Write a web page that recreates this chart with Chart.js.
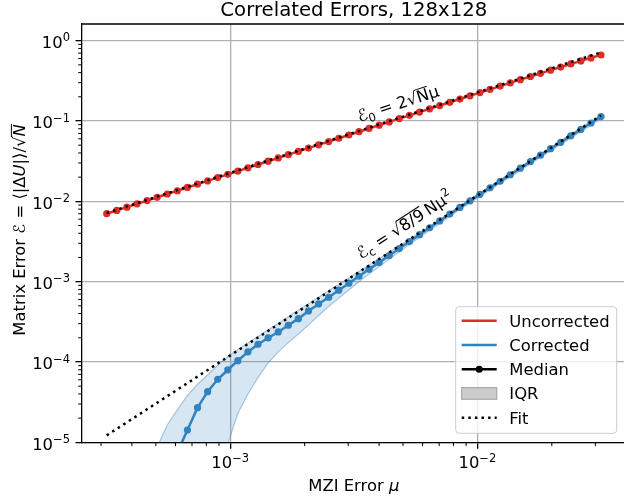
<!DOCTYPE html>
<html>
<head>
<meta charset="utf-8">
<script src="https://cdn.jsdelivr.net/npm/chart.js@4.4.1/dist/chart.umd.min.js"></script>
<style>
  html, body { margin: 0; padding: 0; background: #fff; overflow: hidden; }
  canvas { display: block; }
</style>
</head>
<body>
<canvas id="chart" width="640" height="501"></canvas>
<script>
// MZI error values (log-spaced sweep)
const mu = [
  3.162e-4, 3.474e-4, 3.816e-4, 4.193e-4, 4.606e-4, 5.060e-4, 5.559e-4, 6.107e-4, 6.709e-4, 7.371e-4,
  8.097e-4, 8.896e-4, 9.772e-4, 1.0730e-3, 1.1788e-3, 1.2950e-3, 1.4227e-3, 1.5630e-3, 1.7171e-3, 1.8864e-3,
  2.0724e-3, 2.2767e-3, 2.5012e-3, 2.7479e-3, 3.0188e-3, 3.3165e-3, 3.6436e-3, 4.0029e-3, 4.3976e-3, 4.8312e-3,
  5.3076e-3, 5.8310e-3, 6.4059e-3, 7.0376e-3, 7.7316e-3, 8.4941e-3, 9.3317e-3, 1.0238e-2, 1.1247e-2, 1.2356e-2,
  1.3575e-2, 1.4913e-2, 1.6384e-2, 1.7999e-2, 1.9775e-2, 2.1724e-2, 2.3867e-2, 2.6220e-2, 2.8805e-2, 3.1623e-2
];

// median matrix error without correction
const uncorrectedMedian = [
  7.013e-3, 7.705e-3, 8.464e-3, 9.300e-3, 1.0216e-2, 1.1223e-2, 1.2330e-2, 1.3545e-2, 1.4881e-2, 1.6349e-2,
  1.7959e-2, 1.9731e-2, 2.1674e-2, 2.3799e-2, 2.6146e-2, 2.8723e-2, 3.1555e-2, 3.4667e-2, 3.8079e-2, 4.183e-2,
  4.5955e-2, 5.0483e-2, 5.5458e-2, 6.0923e-2, 6.6923e-2, 7.3515e-2, 8.0756e-2, 8.8706e-2, 9.7435e-2, 0.10702,
  0.11754, 0.12909, 0.14176, 0.15567, 0.17092, 0.18765, 0.20599, 0.22577, 0.24772, 0.27175,
  0.29804, 0.32672, 0.35803, 0.39210, 0.42918, 0.46933, 0.51278, 0.55957, 0.60974, 0.66282
];

// median matrix error after correction
const correctedMedian = [
  5e-9, 1.5e-8, 4e-8, 1e-7, 3e-7, 8e-7, 2.5e-6, 7.5e-6,
  1.422e-5, 2.698e-5, 4.266e-5, 6.090e-5, 7.952e-5, 1.038e-4, 1.332e-4, 1.661e-4, 1.990e-4, 2.363e-4,
  2.864e-4, 3.461e-4, 4.315e-4, 5.277e-4, 6.392e-4,
  7.834e-4, 9.565e-4, 1.1665e-3, 1.4230e-3, 1.7361e-3, 2.1170e-3, 2.5823e-3, 3.1500e-3, 3.8425e-3,
  4.6849e-3, 5.6988e-3, 6.9311e-3, 8.4037e-3, 1.0134e-2, 1.2222e-2, 1.4739e-2, 1.7771e-2, 2.1429e-2,
  2.5844e-2, 3.1153e-2, 3.7567e-2, 4.5173e-2, 5.4302e-2, 6.5284e-2, 7.8524e-2, 9.4428e-2, 0.11350
];

// interquartile range of the corrected error
const correctedQ3 = [
  2e-7, 5e-7, 1e-6, 2e-6, 4.3e-6,
  8.74e-6, 1.642e-5, 2.547e-5, 3.826e-5, 5.277e-5, 6.886e-5, 9.177e-5, 1.164e-4,
  1.4289e-4, 1.7232e-4, 2.0776e-4, 2.5054e-4, 3.0214e-4, 3.6432e-4, 4.3926e-4, 5.2966e-4, 6.3874e-4, 7.6984e-4,
  9.229e-4, 1.1121e-3, 1.3397e-3, 1.6144e-3, 1.9339e-3, 2.3231e-3, 2.7997e-3, 3.3729e-3, 4.0644e-3,
  4.8970e-3, 5.9331e-3, 7.1912e-3,
  8.7735e-3, 1.0580e-2, 1.2760e-2, 1.5388e-2, 1.8553e-2, 2.2372e-2, 2.6981e-2, 3.2524e-2, 3.9220e-2,
  4.7161e-2, 5.6691e-2, 6.8157e-2, 8.1979e-2, 9.8583e-2, 0.11849
];
const correctedQ1 = [
  1e-8, 2e-8, 4e-8, 8e-8, 1.5e-7, 3e-7, 5e-7, 8e-7, 1.3e-6, 2e-6, 3e-6, 4.4e-6,
  9.6e-6,
  2.2847e-5, 3.99e-5, 6.39e-5, 9.71e-5, 1.337e-4, 1.743e-4, 2.23e-4, 2.88e-4, 3.7948e-4, 4.8970e-4,
  6.2290e-4, 7.8795e-4, 9.9426e-4, 1.2399e-3, 1.5372e-3, 1.9066e-3, 2.3498e-3, 2.8891e-3, 3.5408e-3,
  4.3541e-3, 5.3063e-3, 6.4660e-3,
  7.8902e-3, 9.5148e-3, 1.1475e-2, 1.3838e-2, 1.6685e-2, 2.0120e-2, 2.4265e-2, 2.9250e-2, 3.5272e-2,
  4.2413e-2, 5.0984e-2, 6.1295e-2, 7.3726e-2, 8.8659e-2, 0.10657
];

// scaling-law fits, end points of each straight log-log line
const fitMu = [3.1623e-4, 3.1623e-2];
const uncorrectedFit = [7.155e-3, 0.7155];
const correctedFit = [1.22e-5, 0.117];

// axis ranges and decade ticks
const xRange = [2.512e-4, 3.981e-2];
const yRange = [1e-5, 1.612];
const xTicks = [1e-3, 1e-2];
const yTicks = [1e-5, 1e-4, 1e-3, 1e-2, 1e-1, 1e0];

const FAMILY = '"DejaVu Sans", "Liberation Sans", sans-serif';
const RED = '#de2d26';
const BLUE = '#3182bd';
const LABEL = 16.4;
const SMALL = 11.5;

const pts = ys => mu.map((x, i) => ({ x, y: ys[i] }));
const fitPts = ys => fitMu.map((x, i) => ({ x, y: ys[i] }));

function font(size, italic) {
  return (italic ? 'italic ' : '') + size + 'px ' + FAMILY;
}

// draw a run of text pieces (with sub/superscripts and radical bars)
function drawRich(c, segs, x, y, align, angle) {
  let total = 0;
  const widths = segs.map(g => {
    c.font = font(g.s || LABEL, g.it);
    const w = c.measureText(g.t).width;
    total += w;
    return w;
  });
  c.save();
  c.translate(x, y);
  c.rotate(angle || 0);
  let cx = align === 'center' ? -total / 2 : align === 'right' ? -total : 0;
  c.textAlign = 'left';
  c.textBaseline = 'alphabetic';
  c.fillStyle = '#000';
  segs.forEach((g, i) => {
    const s = g.s || LABEL;
    const dy = g.dy || 0;
    c.font = font(s, g.it);
    c.fillText(g.t, cx, dy);
    if (g.ov) {
      c.strokeStyle = '#000';
      c.lineWidth = 1.0;
      c.beginPath();
      c.moveTo(cx - 0.6, dy - s * 0.80);
      c.lineTo(cx + widths[i] + 0.5, dy - s * 0.80);
      c.stroke();
    }
    cx += widths[i];
  });
  c.restore();
}

function expText(v) {
  const e = Math.round(Math.log10(v));
  return e < 0 ? '\u2212' + (-e) : String(e);
}

const decor = {
  id: 'decor',
  afterDraw(chart) {
    const c = chart.ctx;
    const a = chart.chartArea;
    const xs = chart.scales.x;
    const ys = chart.scales.y;
    c.save();

    // top spine
    c.strokeStyle = '#000';
    c.lineWidth = 1.3;
    c.beginPath();
    c.moveTo(a.left - 0.65, a.top);
    c.lineTo(a.right, a.top);
    c.stroke();

    // minor log ticks
    c.lineWidth = 1.0;
    for (let e = -6; e <= 1; e++) {
      for (let k = 2; k <= 9; k++) {
        const v = k * Math.pow(10, e);
        if (v > xRange[0] && v < xRange[1]) {
          const px = xs.getPixelForValue(v);
          c.beginPath(); c.moveTo(px, a.bottom); c.lineTo(px, a.bottom + 3.8); c.stroke();
        }
        if (v > yRange[0] && v < yRange[1]) {
          const py = ys.getPixelForValue(v);
          c.beginPath(); c.moveTo(a.left, py); c.lineTo(a.left - 3.8, py); c.stroke();
        }
      }
    }

    // decade tick labels
    c.fillStyle = '#000';
    c.textBaseline = 'alphabetic';
    c.textAlign = 'left';
    yTicks.forEach(v => {
      const py = ys.getPixelForValue(v);
      const sup = expText(v);
      c.font = font(SMALL); const ws = c.measureText(sup).width;
      c.font = font(LABEL); const wb = c.measureText('10').width;
      const right = 70;
      c.fillText('10', right - ws - wb, py + 7.2);
      c.font = font(SMALL);
      c.fillText(sup, right - ws, py + 0.8);
    });
    xTicks.forEach(v => {
      const px = xs.getPixelForValue(v);
      const sup = expText(v);
      c.font = font(SMALL); const ws = c.measureText(sup).width;
      c.font = font(LABEL); const wb = c.measureText('10').width;
      const left = px - (ws + wb) / 2;
      c.fillText('10', left, 468);
      c.font = font(SMALL);
      c.fillText(sup, left + wb, 461.6);
    });

    // title
    c.textAlign = 'center';
    c.font = font(19.7);
    c.fillText('Correlated Errors, 128x128', (a.left + a.right) / 2, 15.5);

    // axis labels
    drawRich(c, [{ t: 'MZI Error ' }, { t: '\u03bc', it: true }], (a.left + a.right) / 2, 490.5, 'center', 0);
    drawRich(c, [
      { t: 'Matrix Error ' },
      { t: '\u2130' },
      { t: ' = \u27e8|\u0394' },
      { t: 'U', it: true },
      { t: '|\u27e9/\u221a' },
      { t: 'N', it: true, ov: true }
    ], 24.5, 230, 'center', -Math.PI / 2);

    // fit annotations along the lines
    drawRich(c, [
      { t: '\u2130' },
      { t: '0', s: SMALL, dy: 3.5 },
      { t: ' = 2\u221a' },
      { t: 'N', ov: true },
      { t: '\u03bc' }
    ], 399.8, 108.8, 'center', -18 * Math.PI / 180);
    drawRich(c, [
      { t: '\u2130' },
      { t: 'c', s: SMALL, dy: 3.5 },
      { t: ' = \u221a' },
      { t: '8/9', ov: true },
      { t: '\u2009N\u03bc' },
      { t: '2', s: SMALL, dy: -7 }
    ], 407.5, 229.5, 'center', -33 * Math.PI / 180);

    // legend
    const bx = 455.7, by = 306.7, bw = 161, bh = 126.6, r = 3.5;
    c.beginPath();
    c.moveTo(bx + r, by);
    c.arcTo(bx + bw, by, bx + bw, by + bh, r);
    c.arcTo(bx + bw, by + bh, bx, by + bh, r);
    c.arcTo(bx, by + bh, bx, by, r);
    c.arcTo(bx, by, bx + bw, by, r);
    c.closePath();
    c.fillStyle = 'rgba(255,255,255,0.8)';
    c.fill();
    c.strokeStyle = '#cccccc';
    c.lineWidth = 1;
    c.stroke();

    const hx0 = 461.7, hx1 = 496.7, tx = 509.3;
    const rows = ['Uncorrected', 'Corrected', 'Median', 'IQR', 'Fit'];
    rows.forEach((label, k) => {
      const cy = 320.7 + 24.25 * k;
      c.save();
      c.lineWidth = 2.5;
      if (k === 0 || k === 1 || k === 2) {
        c.strokeStyle = k === 0 ? RED : k === 1 ? BLUE : '#000';
        c.beginPath(); c.moveTo(hx0, cy); c.lineTo(hx1, cy); c.stroke();
        if (k === 2) {
          c.fillStyle = '#000';
          c.beginPath(); c.arc((hx0 + hx1) / 2, cy, 3.5, 0, Math.PI * 2); c.fill();
        }
      } else if (k === 3) {
        c.fillStyle = '#cccccc';
        c.strokeStyle = '#a9a9a9';
        c.lineWidth = 1.2;
        c.fillRect(hx0, cy - 5.8, hx1 - hx0, 11.6);
        c.strokeRect(hx0, cy - 5.8, hx1 - hx0, 11.6);
      } else {
        c.strokeStyle = '#000';
        c.setLineDash([2.5, 4.1]);
        c.beginPath(); c.moveTo(hx0, cy); c.lineTo(hx1, cy); c.stroke();
      }
      c.restore();
      c.fillStyle = '#000';
      c.textAlign = 'left';
      c.font = font(LABEL);
      c.fillText(label, tx, cy + 6);
    });

    c.restore();
  }
};

const gridStyle = {
  color: '#b0b0b0',
  lineWidth: 1.3,
  drawTicks: true,
  tickLength: 6.5,
  tickColor: '#000',
  tickWidth: 1.3
};

new Chart(document.getElementById('chart').getContext('2d'), {
  type: 'line',
  data: {
    datasets: [
      { label: 'Fit uncorrected', data: fitPts(uncorrectedFit), borderColor: '#000', borderWidth: 2.5,
        borderDash: [2.5, 4.1], borderCapStyle: 'butt', pointRadius: 0, fill: false, order: 0 },
      { label: 'Fit corrected', data: fitPts(correctedFit), borderColor: '#000', borderWidth: 2.5,
        borderDash: [2.5, 4.1], borderCapStyle: 'butt', pointRadius: 0, fill: false, order: 0 },
      { label: 'Uncorrected', data: pts(uncorrectedMedian), borderColor: RED, borderWidth: 2.5,
        pointRadius: 3.6, pointBackgroundColor: RED, pointBorderWidth: 0, fill: false, order: 1 },
      { label: 'Corrected', data: pts(correctedMedian), borderColor: BLUE, borderWidth: 2.5,
        pointRadius: 3.6, pointBackgroundColor: BLUE, pointBorderWidth: 0, fill: false, order: 1 },
      { label: 'Corrected Q3', data: pts(correctedQ3), borderColor: 'rgba(49,130,189,0.4)', borderWidth: 1.2,
        pointRadius: 0, fill: { target: 5 }, backgroundColor: 'rgba(49,130,189,0.2)', order: 2 },
      { label: 'Corrected Q1', data: pts(correctedQ1), borderColor: 'rgba(49,130,189,0.4)', borderWidth: 1.2,
        pointRadius: 0, fill: false, order: 2 }
    ]
  },
  options: {
    responsive: false,
    animation: false,
    devicePixelRatio: 1,
    events: [],
    layout: { autoPadding: false, padding: { left: 0, top: 24, right: 14.3, bottom: 0 } },
    elements: { line: { tension: 0 } },
    plugins: { legend: { display: false }, tooltip: { enabled: false }, title: { display: false } },
    scales: {
      x: {
        type: 'logarithmic', position: 'bottom', min: xRange[0], max: xRange[1], bounds: 'data',
        afterBuildTicks(s) { s.ticks = xTicks.map(v => ({ value: v })); },
        afterFit(s) { s.height = 58.7; },
        ticks: { display: false },
        grid: gridStyle,
        border: { display: true, color: '#000', width: 1.3 }
      },
      y: {
        type: 'logarithmic', position: 'left', min: yRange[0], max: yRange[1], bounds: 'data',
        afterBuildTicks(s) { s.ticks = yTicks.map(v => ({ value: v })); },
        afterFit(s) { s.width = 82; },
        ticks: { display: false },
        grid: gridStyle,
        border: { display: true, color: '#000', width: 1.3 }
      }
    }
  },
  plugins: [decor]
});
</script>
</body>
</html>
